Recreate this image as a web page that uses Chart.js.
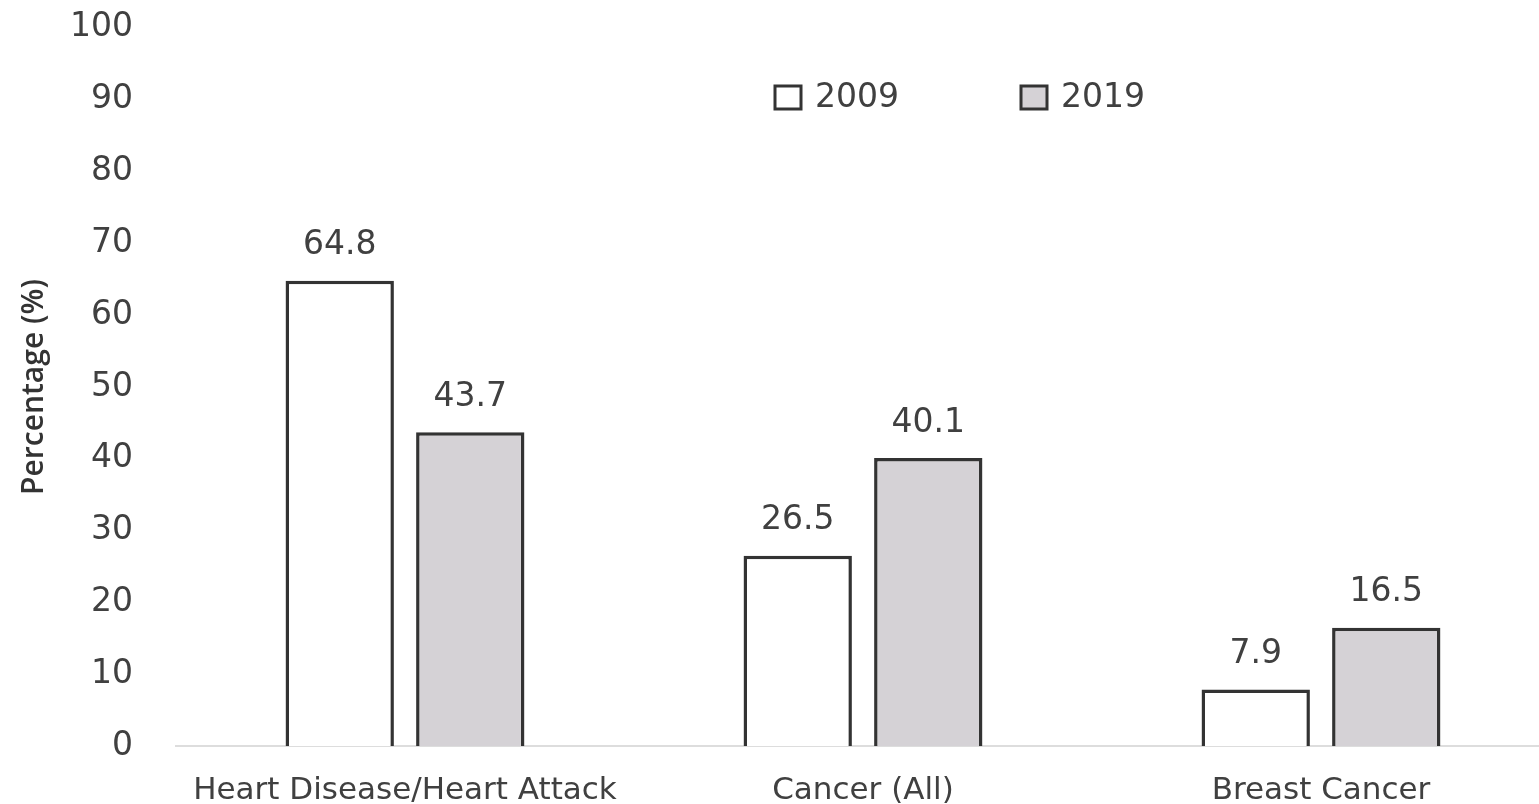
<!DOCTYPE html>
<html>
<head>
<meta charset="utf-8">
<script src="https://cdn.jsdelivr.net/npm/chart.js@4/dist/chart.umd.min.js"></script>
<style>
html,body{margin:0;padding:0;background:#fff;overflow:hidden;}
#c{position:absolute;left:0;top:-35px;}
</style>
</head>
<body>
<canvas id="c" width="1550" height="844"></canvas>
<script>
const categories = ["Heart Disease/Heart Attack", "Cancer (All)", "Breast Cancer"];
const seriesNames = ["2009", "2019"];
const values2009 = [64.8, 26.5, 7.9];
const values2019 = [43.7, 40.1, 16.5];
const yTicks = [0, 10, 20, 30, 40, 50, 60, 70, 80, 90, 100];

const FONT = "'DejaVu Sans', sans-serif";
const TEXT = "#404040";
const BORDER = "#333333";

const valueLabels = {
  id: 'valueLabels',
  afterDatasetsDraw(chart) {
    const ctx = chart.ctx;
    ctx.save();
    ctx.font = "33px " + FONT;
    ctx.fillStyle = TEXT;
    ctx.textAlign = 'center';
    ctx.textBaseline = 'middle';
    chart.data.datasets.forEach((ds, i) => {
      chart.getDatasetMeta(i).data.forEach((bar, j) => {
        ctx.fillText(ds.data[j].toFixed(1), bar.x, bar.y - 35);
      });
    });
    ctx.restore();
  }
};

const customLegend = {
  id: 'customLegend',
  afterDraw(chart) {
    const ctx = chart.ctx;
    ctx.save();
    const items = [{x: 775, ds: 0}, {x: 1021, ds: 1}];
    const yc = 97 + 35;
    items.forEach(it => {
      const ds = chart.data.datasets[it.ds];
      ctx.fillStyle = ds.backgroundColor;
      ctx.strokeStyle = BORDER;
      ctx.lineWidth = 3;
      ctx.fillRect(it.x, yc - 11, 26, 23);
      ctx.strokeRect(it.x, yc - 11, 26, 23);
      ctx.fillStyle = TEXT;
      ctx.font = "33px " + FONT;
      ctx.textAlign = 'left';
      ctx.textBaseline = 'middle';
      ctx.fillText(ds.label, it.x + 40, yc + 1);
    });
    ctx.restore();
  }
};

new Chart(document.getElementById('c'), {
  type: 'bar',
  data: {
    labels: categories,
    datasets: [
      { label: seriesNames[0], data: values2009, backgroundColor: '#ffffff', borderColor: BORDER, borderWidth: {top:3.5, left:3.5, right:3.5, bottom:0}, borderSkipped: 'bottom' },
      { label: seriesNames[1], data: values2019, backgroundColor: '#d5d2d6', borderColor: BORDER, borderWidth: {top:3.5, left:3.5, right:3.5, bottom:0}, borderSkipped: 'bottom' }
    ]
  },
  options: {
    responsive: false,
    animation: false,
    layout: { padding: { top: 0, right: 0, bottom: 0, left: 0 } },
    datasets: { bar: { barPercentage: 0.83, categoryPercentage: 0.57 } },
    plugins: { legend: { display: false }, tooltip: { enabled: false } },
    scales: {
      x: {
        grid: { display: false, drawTicks: false },
        border: { display: true, color: '#dddddd', width: 2 },
        ticks: { color: TEXT, font: { family: FONT, size: 31 }, padding: 26 },
        afterFit(scale) { scale.height = 58; }
      },
      y: {
        min: 0, max: 100,
        afterBuildTicks(scale) { scale.ticks = yTicks.map(v => ({ value: v })); },
        grid: { display: false, drawTicks: false },
        border: { display: false },
        ticks: { color: TEXT, font: { family: FONT, size: 33 }, padding: 43 },
        title: { display: true, text: 'Percentage (%)', color: '#333333', font: { family: "'Open Sans', sans-serif", size: 30, weight: '600' }, padding: { top: 16, bottom: 0 } },
        afterFit(scale) { scale.width = 176; }
      }
    }
  },
  plugins: [valueLabels, customLegend]
});
</script>
</body>
</html>
